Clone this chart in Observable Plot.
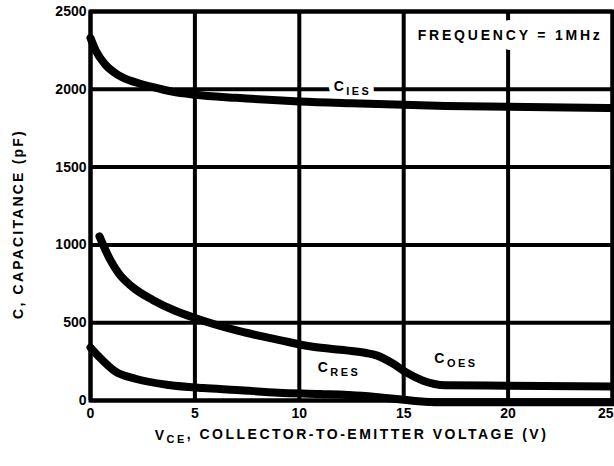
<!DOCTYPE html>
<html>
<head>
<meta charset="utf-8">
<script src="https://cdn.jsdelivr.net/npm/d3@7"></script>
<script src="https://cdn.jsdelivr.net/npm/@observablehq/plot@0.6"></script>
<style>
  html, body { margin: 0; padding: 0; background: #fff; }
  #chart svg { display: block; }
</style>
</head>
<body>
<div id="chart"></div>
<script>
// ---- data ----
const xTicks = [0, 5, 10, 15, 20, 25];
const yTicks = [0, 500, 1000, 1500, 2000, 2500];

const iesV = [0, 0.25, 0.7, 1.35, 2.15, 2.95, 3.9, 5, 7, 10, 12.5, 15, 17, 20, 25];
const iesC = [2330, 2250, 2160, 2090, 2045, 2015, 1985, 1965, 1945, 1922, 1910, 1900, 1893, 1888, 1880];

const oesV = [0.43, 0.96, 1.36, 2.0, 3.0, 4.0, 5.0, 7, 9, 10.65, 12.25, 13.2, 13.7, 14.5, 15.1, 15.9, 17, 20, 25];
const oesC = [1055, 900, 815, 730, 645, 580, 530, 450, 390, 345, 322, 305, 290, 236, 182, 129, 98, 95, 90];

const resV = [0, 0.4, 1.2, 2.15, 3.75, 5.4, 7, 9, 11, 13, 14, 15, 16, 17, 25];
const resC = [340, 282, 185, 140, 100, 80, 68, 50, 42, 30, 18, 5, -8, -12, -12];

const labelNames = ["C_{IES}", "C_{OES}", "C_{RES}", "FREQUENCY = 1MHz"];
const labelV = [12.55, 17.5, 11.9, 20.1];
const labelC = [2015, 268, 210, 2345];

const xTitle = "V_{CE}, COLLECTOR-TO-EMITTER VOLTAGE (V)";
const yTitle = "C, CAPACITANCE (pF)";

// ---- build tables ----
const series = [
  ...iesV.map((v, i) => ({name: "IES", v, c: iesC[i]})),
  ...oesV.map((v, i) => ({name: "OES", v, c: oesC[i]})),
  ...resV.map((v, i) => ({name: "RES", v, c: resC[i]}))
];
const labels = labelNames.map((t, i) => ({t, v: labelV[i], c: labelC[i]}));

const font = "'Liberation Sans', Arial, Helvetica, sans-serif";
const fmt = d => String(d);

const chart = Plot.plot({
  width: 614,
  height: 466,
  marginLeft: 90,
  marginRight: 2,
  marginTop: 11,
  marginBottom: 66,
  style: {fontFamily: font, fontSize: "14px", fontWeight: "bold", color: "black", background: "white"},
  x: {domain: [0, 25], label: null},
  y: {domain: [0, 2500], label: null},
  marks: [
    Plot.ruleX(xTicks, {stroke: "black", strokeWidth: 4}),
    Plot.ruleY(yTicks, {stroke: "black", strokeWidth: 4}),
    Plot.text(labels, {x: "v", y: "c", text: "t", fontSize: 14, fontWeight: "bold",
      fill: "white", stroke: "white", strokeWidth: d => d.t.startsWith("FREQ") ? 20 : 11}),
    Plot.line(series, {x: "v", y: "c", z: "name", stroke: "black", strokeWidth: 8, curve: "monotone-x"}),
    Plot.text(labels, {x: "v", y: "c", text: "t", fontSize: 14, fontWeight: "bold", fill: "black"}),
    Plot.frame({stroke: "black", strokeWidth: 4}),
    Plot.axisX({ticks: xTicks.slice(0, -1), tickFormat: fmt, tickSize: 0, tickPadding: 8, fontSize: 14, fontWeight: "bold", label: null}),
    Plot.axisX({ticks: xTicks.slice(-1), tickFormat: fmt, tickSize: 0, tickPadding: 8, fontSize: 14, fontWeight: "bold", textAnchor: "end", dx: 1, label: null}),
    Plot.axisY({ticks: yTicks, tickFormat: fmt, tickSize: 0, tickPadding: 4, fontSize: 14, fontWeight: "bold", label: null}),
    Plot.text([xTitle], {frameAnchor: "bottom", dy: 39, text: d => d, fontSize: 14, fontWeight: "bold"}),
    Plot.text([yTitle], {frameAnchor: "left", textAnchor: "middle", rotate: -90, dx: -72, dy: 18, text: d => d, fontSize: 14, fontWeight: "bold"})
  ]
});

document.getElementById("chart").appendChild(chart);

// letter spacing (the reference uses widely tracked capitals)
d3.select(chart).selectAll("text").each(function () {
  const t = this.textContent;
  let ls = null;
  if (t.startsWith("FREQ")) ls = "2.8px";
  else if (t.startsWith("V_")) ls = "2.5px";
  else if (t.startsWith("C,")) ls = "2.2px";
  else if (t.startsWith("C_")) ls = "2.5px";
  if (ls) d3.select(this).style("letter-spacing", ls);
});

// subscripts: turn "_{...}" into smaller, lowered tspans
d3.select(chart).selectAll("text").each(function () {
  const el = d3.select(this);
  const txt = this.textContent;
  if (!txt.includes("_{")) return;
  const parts = txt.split(/(_\{[^}]*\})/).filter(s => s.length);
  el.text(null);
  let lowered = false;
  for (const p of parts) {
    const m = p.match(/^_\{([^}]*)\}$/);
    if (m) {
      el.append("tspan").attr("dy", "0.3em").attr("font-size", "0.78em").text(m[1]);
      lowered = true;
    } else {
      const ts = el.append("tspan").text(p);
      if (lowered) { ts.attr("dy", "-0.3em"); lowered = false; }
    }
  }
});
</script>
</body>
</html>
